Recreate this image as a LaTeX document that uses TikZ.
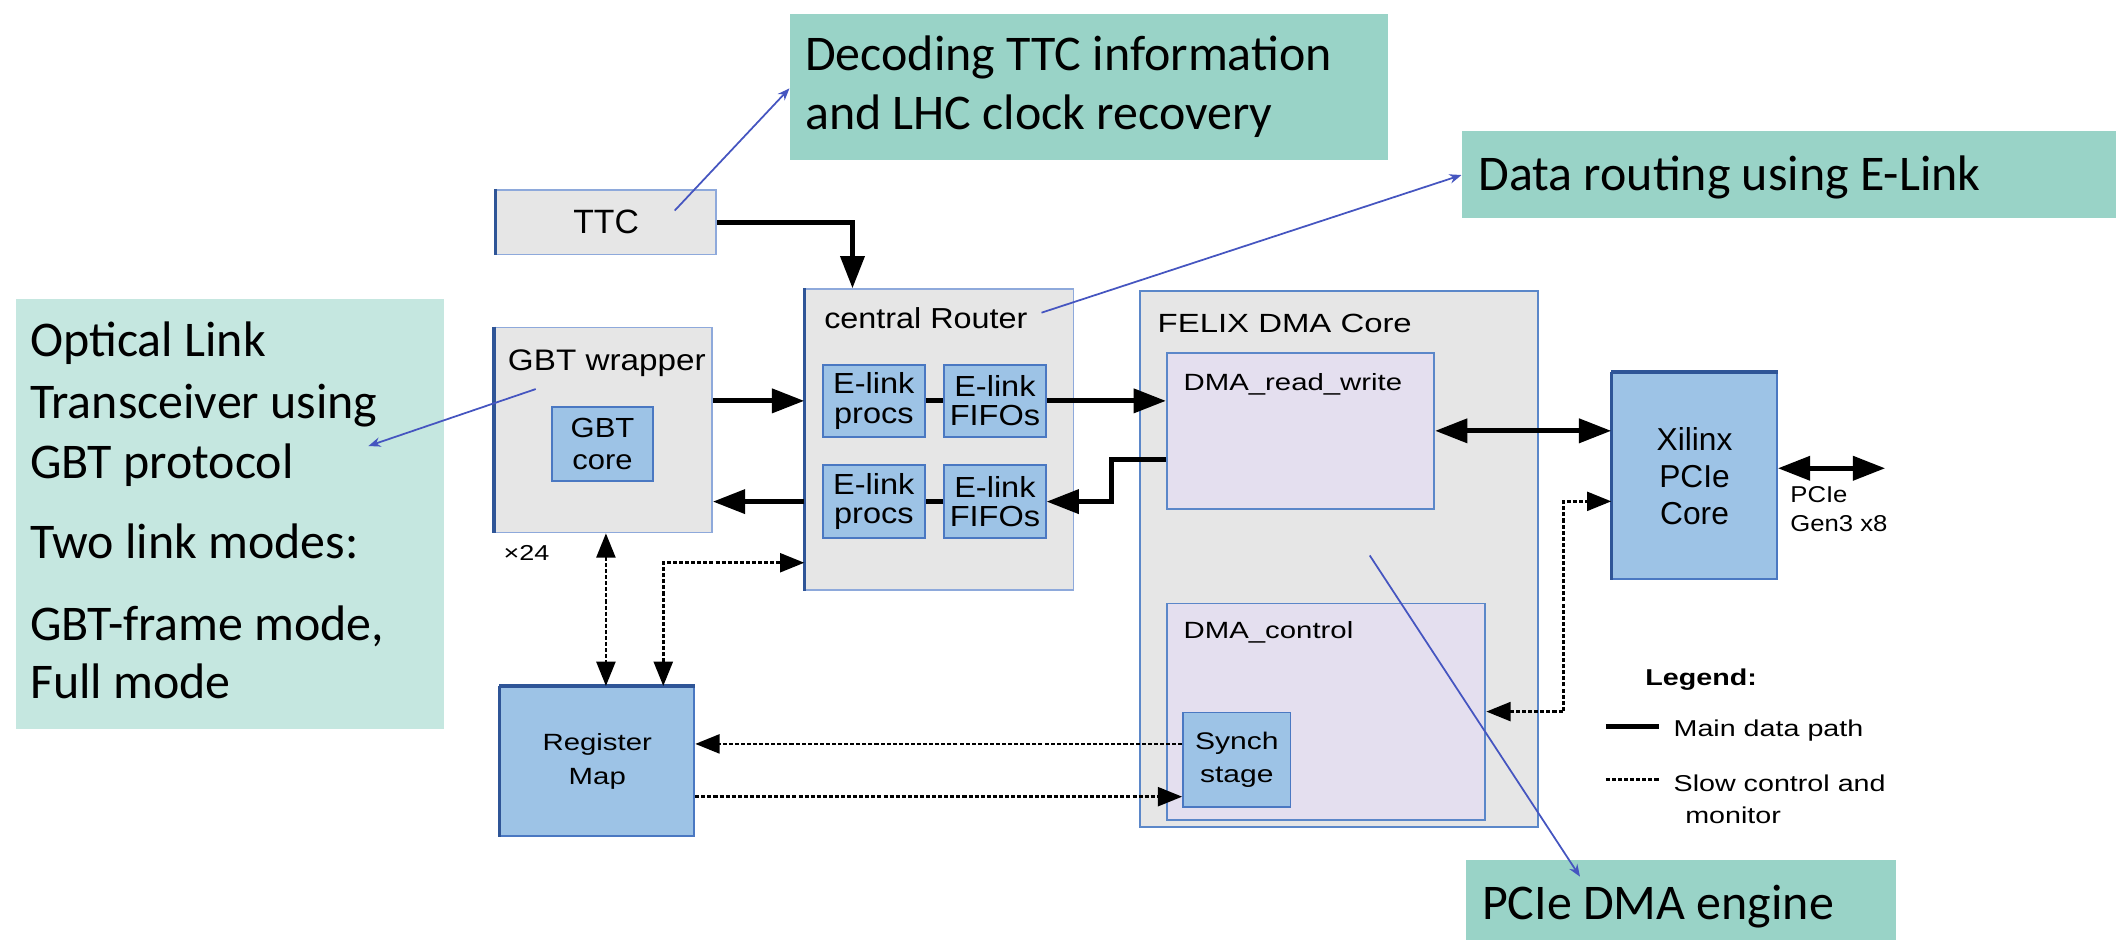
\documentclass[tikz,border=0pt]{standalone}
\usepackage{fontspec}
\setmainfont{Carlito}
\newfontfamily\afA{Liberation Sans}
\newfontfamily\afB{Liberation Sans}[FakeStretch=1.12]
\newfontfamily\afC{Liberation Sans}[FakeStretch=1.25]
\usetikzlibrary{arrows.meta,calc}
\newcommand\fsz[2]{\fontsize{#1pt}{#2pt}\selectfont}
\definecolor{graybg}{HTML}{E6E6E6}
\definecolor{grayline}{HTML}{8EA9DB}
\definecolor{darkedge}{HTML}{2F5597}
\definecolor{lavbg}{HTML}{E4DFEF}
\definecolor{lavline}{HTML}{5B87C9}
\definecolor{bluebg}{HTML}{9DC3E6}
\definecolor{blueline}{HTML}{4A78C2}
\definecolor{teal}{HTML}{99D3C7}
\definecolor{teallight}{HTML}{C5E7E0}
\definecolor{callline}{HTML}{4555C0}
\tikzset{
  box/.style={anchor=north west, inner sep=0pt, align=center},
  graybox/.style={box, fill=graybg, draw=grayline, line width=1.2pt},
  lavbox/.style={box, fill=lavbg, draw=lavline, line width=1.4pt},
  bluebox/.style={box, fill=bluebg, draw=blueline, line width=1.4pt},
  callbox/.style={box, fill=teal},
  callboxl/.style={box, fill=teallight},
  calltext/.style={anchor=base west, inner sep=0pt, font=\fsz{37}{44}},
  lbl/.style={anchor=base west, inner sep=0pt},
  edgeL/.style={line width=2.6pt, darkedge},
  thickline/.style={line width=3.8pt, black},
  thickarr/.style={thickline, -{Triangle[length=24pt,width=17.5pt]}},
  thickdbl/.style={thickline, {Triangle[length=24pt,width=17.5pt]}-{Triangle[length=24pt,width=17.5pt]}},
  dotline/.style={line width=2pt, black, dash pattern=on 3pt off 1.5pt},
  dotarr/.style={dotline, -{Triangle[length=18pt,width=14pt]}},
  dotdbl/.style={dotline, {Triangle[length=18pt,width=14pt]}-{Triangle[length=18pt,width=14pt]}},
  callarr/.style={draw=callline, line width=1.3pt, -{Stealth[length=9pt,width=7pt]}},
}
\begin{document}
\begin{tikzpicture}[x=1pt,y=-1pt]
\useasboundingbox (0,0) rectangle (1568,696);

% callout boxes
\node[callbox, minimum width=443pt, minimum height=108pt] (dec) at (585,10) {};
\node[calltext] (dect1) at (596.5,51.9) {Decoding TTC information};
\node[calltext] (dect2) at (596.5,95.8) {and LHC clock recovery};
\node[callbox, minimum width=487pt, minimum height=64pt] (route) at (1083,97) {};
\node[calltext] (routet) at (1095.4,140.8) {Data routing using E-Link};
\node[callboxl, minimum width=317pt, minimum height=319pt] (opt) at (12,221) {};
\node[calltext] (optt1) at (22.2,264.3) {Optical Link};
\node[calltext] (optt2) at (22.2,310) {Transceiver using};
\node[calltext] (optt3) at (22.2,354.4) {GBT protocol};
\node[calltext] (optt4) at (22.2,413.7) {Two link modes:};
\node[calltext] (optt5) at (22.2,474.3) {GBT-frame mode,};
\node[calltext] (optt6) at (22.2,517.5) {Full mode};
\node[callbox, minimum width=319pt, minimum height=62pt] (pdma) at (1086,637) {};
\node[calltext] (pdmat) at (1098,681.7) {PCIe DMA engine};

% gray containers
\node[graybox, minimum width=163pt, minimum height=48pt, font=\afA\fsz{25}{28}] (ttc) at (367,140) {TTC};
\node[graybox, minimum width=161pt, minimum height=152pt] (gbtw) at (366,242) {};
\node[lbl, font=\afB\fsz{22}{25}] (gbtwl) at (376.2,274.2) {GBT wrapper};
\node[graybox, minimum width=199pt, minimum height=223pt] (router) at (596,213.7) {};
\node[lbl, font=\afB\fsz{21.4}{24}] (routerl) at (610.6,243.3) {central Router};
\node[graybox, draw=lavline, line width=1.6pt, minimum width=295pt, minimum height=397pt] (felix) at (844,214.8) {};
\node[lbl, font=\afC\fsz{19.5}{22}] (felixl) at (857.7,246.5) {FELIX DMA Core};

% lavender boxes
\node[lavbox, minimum width=198pt, minimum height=115.7pt] (dmarw) at (864,260.7) {};
\node[lbl, font=\afC\fsz{17.4}{20}] (dmarwl) at (876.9,289) {DMA\_read\_write};
\node[lavbox, minimum width=236pt, minimum height=160.2pt] (dmactl) at (864,446.5) {};
\node[lbl, font=\afC\fsz{17.4}{20}] (dmactll) at (876.9,473.4) {DMA\_control};

% blue boxes
\node[bluebox, minimum width=74.8pt, minimum height=54.8pt, font=\afB\fsz{20.5}{23}] (gbtcore) at (408.4,300.9) {GBT\\core};
\node[bluebox, minimum width=75.3pt, minimum height=53.3pt, font=\afB\fsz{21.5}{21.8}] (ep1) at (609.2,269.7) {E-link\\procs};
\node[bluebox, minimum width=75.1pt, minimum height=53.3pt, font=\afB\fsz{21.5}{21.8}] (ef1) at (699,269.7) {E-link\\FIFOs};
\node[bluebox, minimum width=75.3pt, minimum height=54.4pt, font=\afB\fsz{21.5}{21.8}] (ep2) at (609.2,343.8) {E-link\\procs};
\node[bluebox, minimum width=75.1pt, minimum height=54.4pt, font=\afB\fsz{21.5}{21.8}] (ef2) at (699,343.8) {E-link\\FIFOs};
\node[bluebox, minimum width=79.6pt, minimum height=70.3pt, font=\afC\fsz{17.8}{24.2}] (synch) at (876,527.3) {Synch\\stage};
\node[bluebox, minimum width=122pt, minimum height=153.2pt, font=\afA\fsz{23.5}{27.2}] (xil) at (1194,275.4) {Xilinx\\PCIe\\Core};
\node[bluebox, minimum width=143.8pt, minimum height=110.5pt, font=\afC\fsz{17.4}{24.8}] (reg) at (370,508.3) {Register\\Map};

% dark edges
\foreach \n in {ttc,gbtw,router,reg,xil}
  \draw[edgeL] (\n.north west) -- (\n.south west);
\draw[line width=3pt, darkedge] (reg.north west) -- (reg.north east);
\draw[line width=3pt, darkedge] (xil.north west) -- (xil.north east);

% small labels
\node[lbl, font=\afC\fsz{16}{18}] (x24) at (373,415) {×24};
\node[lbl, font=\afB\fsz{17}{21.7}, align=left, anchor=north west] (pcielbl) at (1326.5,360) {PCIe\\Gen3 x8};

% main data path
\draw[thickarr] (ttc.east) -| ([xshift=35.7pt]router.north west);
\draw[thickarr] (gbtw.east |- ep1) -- (router.west |- ep1);
\draw[thickarr] (router.west |- ep2) -- (gbtw.east |- ep2);
\draw[thickline] (ep1) -- (ef1);
\draw[thickarr] (ef1.east) -- (dmarw.west |- ef1);
\draw[thickline] (ef2) -- (ep2);
\draw[thickarr] ([yshift=-21pt]dmarw.west) -- ++(-40.3,0) |- (ef2.east);
\draw[thickdbl] (dmarw.east) -- (xil.west |- dmarw.east);
\coordinate (pcieout) at (1397,347);
\draw[thickdbl] (xil.east |- pcieout) -- (pcieout);

% slow control
\draw[dotdbl] (dmactl.east) -- ++(57.4,0) |- ([yshift=-18.8pt]xil.west);
\draw[dotdbl] (gbtw.south -| 449,0) -- (reg.north -| 449,0);
\draw[dotdbl] (reg.north -| 491.5,0) |- (router.west |- 0,417);
\coordinate (s1) at ([yshift=11.9pt]synch.west);
\coordinate (s2) at ([yshift=-27.2pt]synch.west);
\draw[dotarr] (s1) -- (reg.east |- s1);
\draw[dotarr] (reg.east |- s2) -- (s2);

% legend
\node[lbl, font=\afC\bfseries\fsz{17}{20}] (legt) at (1219,507.6) {Legend:};
\coordinate (l1a) at (1190,538.5);
\coordinate (l1b) at (1229.6,538.5);
\coordinate (l2a) at (1190,577.5);
\coordinate (l2b) at (1229.6,577.5);
\draw[line width=4pt] (l1a) -- (l1b);
\draw[dotline] (l2a) -- (l2b);
\node[lbl, font=\afC\fsz{17}{20}] (leg1) at (1240,546) {Main data path};
\node[lbl, font=\afC\fsz{17}{20}] (leg2) at (1240,586.6) {Slow control and};
\node[lbl, font=\afC\fsz{17}{20}] (leg3) at (1248.6,610) {monitor};

% callout arrows
\coordinate (c1s) at (500,156);
\draw[callarr] (c1s) -- (dec.west |- 0,65.5);
\coordinate (c2s) at (771.8,231.7);
\draw[callarr] (c2s) -- (route.west |- 0,129.7);
\coordinate (c3s) at (397,288.3);
\coordinate (c3e) at (273,330.5);
\draw[callarr] (c3s) -- (c3e);
\coordinate (c4s) at (1015,411.6);
\coordinate (c4e) at (1170.8,649.6);
\draw[callarr] (c4s) -- (c4e);
\end{tikzpicture}
\end{document}
